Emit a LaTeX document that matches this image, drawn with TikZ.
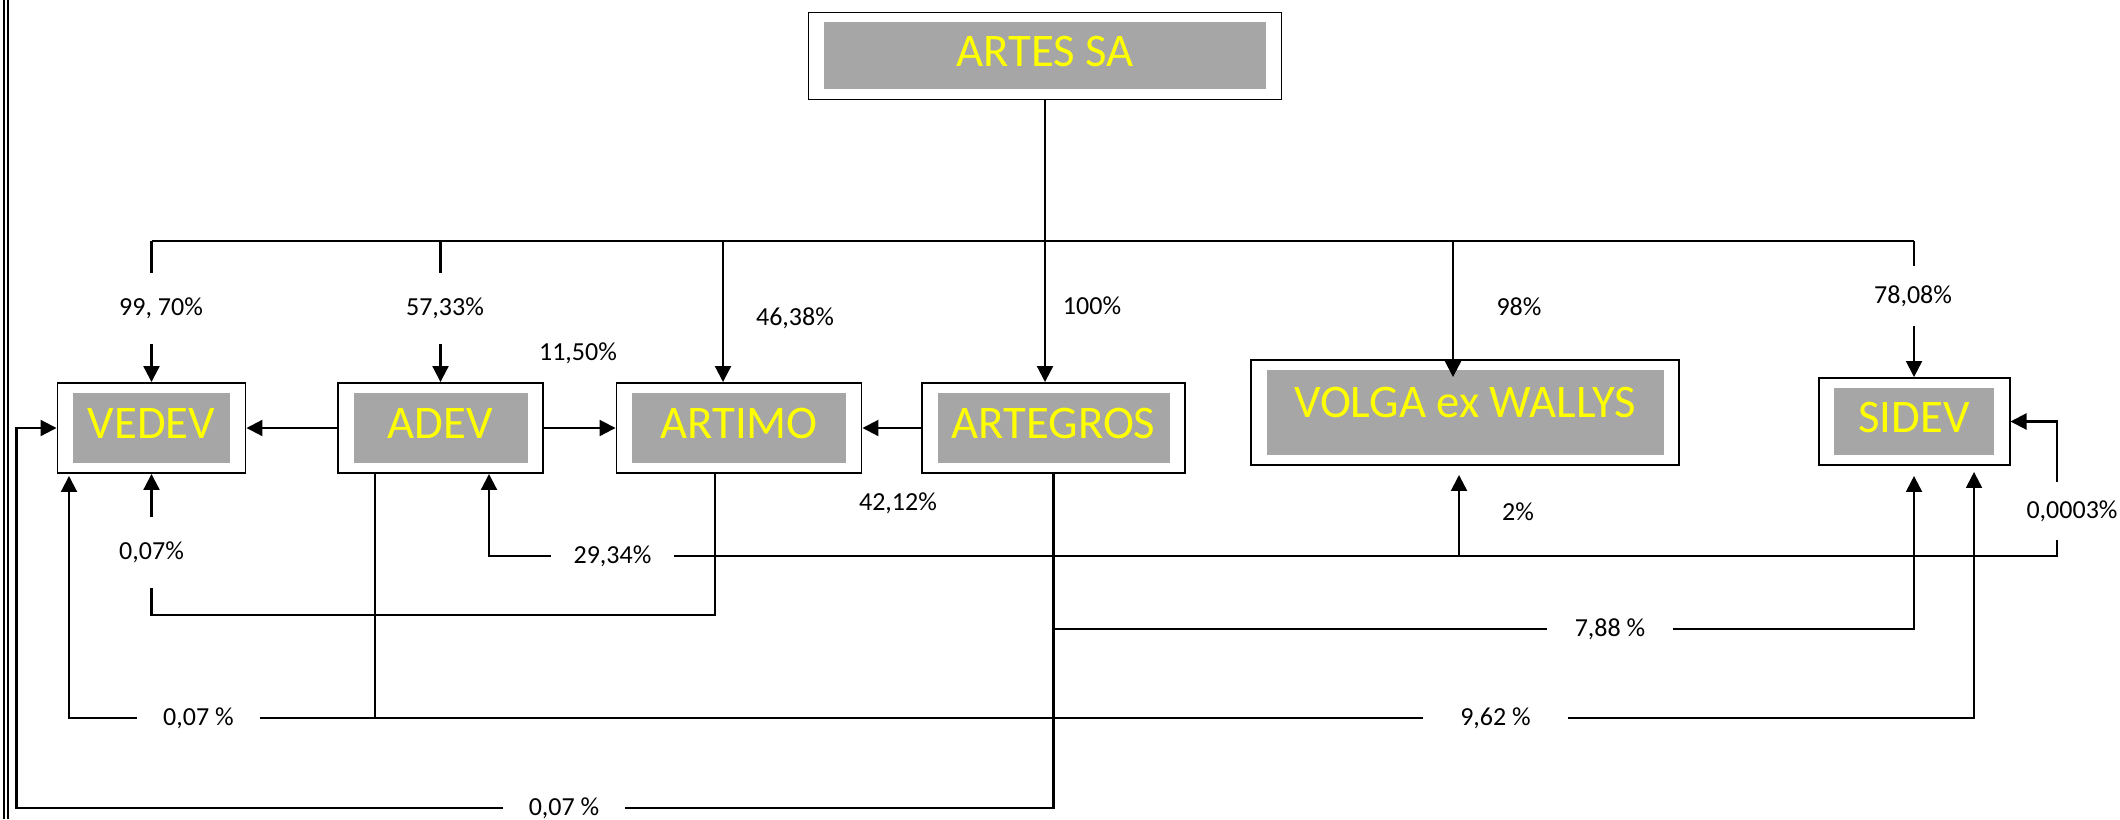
\documentclass[tikz,border=0pt]{standalone}
\usepackage{fontspec}
\setmainfont{Carlito}
\usepackage{xcolor}
\usepackage{tikz}
\usetikzlibrary{positioning,arrows.meta}
\definecolor{gray1}{HTML}{A6A6A6}
\definecolor{yellow1}{HTML}{FFFF00}

\begin{document}
\begin{tikzpicture}[
    >={Triangle[length=0.16cm, width=0.16cm]},
    line width=0.6pt,
    firm/.style={draw, line width=0.55pt, fill=white, inner sep=0pt,
                 minimum height=0.9cm, text=yellow1, text depth=0.09cm,
                 font=\fontsize{13.3}{16}\selectfont,
                 path picture={\fill[gray1]
                   ([shift={(0.155,0.1)}]path picture bounding box.south west)
                   rectangle
                   ([shift={(-0.155,-0.1)}]path picture bounding box.north east);}},
    pct/.style={inner sep=0pt, font=\fontsize{7.4}{9}\selectfont},
]
\useasboundingbox (0,0) rectangle (21.2,8.19);
\draw[double, double distance=0.028cm, line width=0.35pt] (0.06,0) -- (0.06,8.19);

\node[firm, minimum width=4.73cm, minimum height=0.87cm] (artes) at (10.45,7.63) {ARTES SA};
\node[firm, minimum width=1.88cm] (vedev) at (1.515,3.91) {VEDEV};
\node[firm, minimum width=2.05cm] (adev) at (4.405,3.91) {ADEV};
\node[firm, minimum width=2.45cm] (artimo) at (7.39,3.91) {ARTIMO};
\node[firm, minimum width=2.63cm] (artegros) at (10.535,3.91) {ARTEGROS};
\node[firm, minimum width=4.28cm, minimum height=1.05cm, text depth=0.21cm]
    (volga) at (14.65,4.065) {VOLGA ex WALLYS};
\node[firm, minimum width=1.91cm, minimum height=0.87cm] (sidev) at (19.14,3.975) {SIDEV};

\node[pct, minimum height=0.69cm] (p1) at (1.61,5.105) {99, 70\%};
\node[pct, minimum height=0.69cm] (p2) at (4.45,5.105) {57,33\%};
\node[pct] (p3) at (7.95,5.01) {46,38\%};
\node[pct] (p4) at (5.78,4.66) {11,50\%};
\node[pct] (p5) at (10.92,5.13) {100\%};
\node[pct] (p6) at (15.19,5.12) {98\%};
\node[pct, minimum height=0.58cm] (p7) at (19.13,5.23) {78,08\%};
\node[pct] (p8) at (8.98,3.16) {42,12\%};
\node[pct, minimum height=0.69cm] (p9) at (1.515,2.665) {0,07\%};
\node[pct, minimum width=1.21cm] (p10) at (6.125,2.63) {29,34\%};
\node[pct] (p11) at (15.18,3.07) {2\%};
\node[pct, minimum height=0.56cm] (p12) at (20.72,3.08) {0,0003\%};
\node[pct, minimum width=1.24cm] (p13) at (16.10,1.90) {7,88 \%};
\node[pct, minimum width=1.43cm] (p14) at (14.955,1.01) {9,62 \%};
\node[pct, minimum width=1.21cm] (p15) at (1.985,1.01) {0,07 \%};
\node[pct, minimum width=1.20cm] (p16) at (5.64,0.11) {0,07 \%};

\coordinate (bus) at (10.45,5.78);
\coordinate (b3) at (7.23,5.78);
\coordinate (b6) at (14.53,5.78);
\draw (artes.south) -- (bus);
\draw (vedev |- bus) -- (sidev |- bus);
\draw (vedev |- bus) -- (vedev |- p1.north);
\draw[->] (vedev |- p1.south) -- (vedev.north);
\draw (adev |- bus) -- (adev |- p2.north);
\draw[->] (adev |- p2.south) -- (adev.north);
\draw[->] (b3) -- (b3 |- artimo.north);
\draw[->] (bus) -- (bus |- artegros.north);
\draw[->] (b6) -- ([yshift=-0.18cm]b6 |- volga.north);
\draw (sidev |- bus) -- (sidev |- p7.north);
\draw[->] (sidev |- p7.south) -- (sidev.north);

\draw[->] (adev) -- (vedev);
\draw[->] (adev) -- (artimo);
\draw[->] (artegros) -- (artimo);

\coordinate (lft) at (0.165,0.11);
\draw (artegros.south) |- (p16.east);
\draw[->] (p16.west) -- (lft) |- (vedev.west);
\draw (artegros.south |- p13) -- (p13.west);
\draw[->] (p13.east) -| ([yshift=-0.1cm]sidev.south);

\coordinate (a9) at (3.75,1.01);
\draw (a9 |- adev.south) -- (a9) -- (p14.west);
\draw (a9) -- (p15.east);
\draw[->] (p14.east) -| ([xshift=0.6cm, yshift=-0.06cm]sidev.south);
\draw[->] (p15.west) -| ([xshift=-0.825cm, yshift=-0.02cm]vedev.south);

\coordinate (r1) at (1.515,2.04);
\draw ([xshift=-0.24cm]artimo.south) |- (r1) -- (p9.south);
\draw[->] (p9.north) -- (vedev.south);

\coordinate (e12) at (20.57,2.63);
\coordinate (v2) at (14.59,2.63);
\draw[->] (p10.west) -| ([xshift=0.485cm]adev.south);
\draw (p10.east) -- (e12) -- (e12 |- p12.south);
\draw[->] (e12 |- p12.north) |- (sidev.east);
\draw[->] (v2) -- ([yshift=-0.09cm]v2 |- volga.south);
\end{tikzpicture}
\end{document}
